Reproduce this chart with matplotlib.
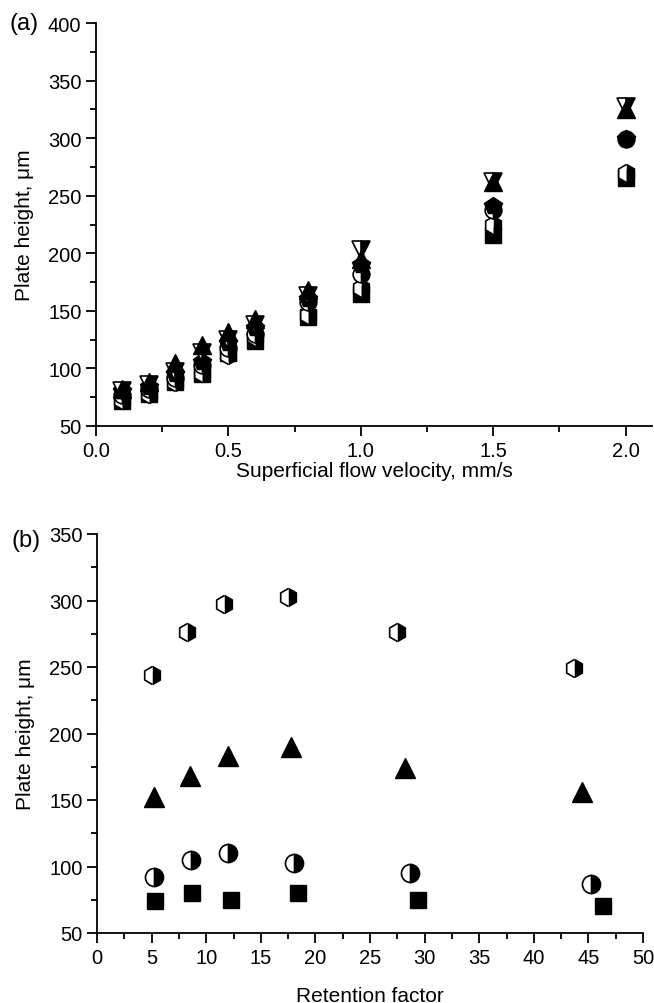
import numpy as np
import matplotlib.pyplot as plt
from matplotlib.ticker import MultipleLocator

plt.rcParams['font.family'] = ['Liberation Sans', 'DejaVu Sans']

# panel (a): plate height vs superficial flow velocity
velocity = [0.1, 0.2, 0.3, 0.4, 0.5, 0.6, 0.8, 1.0, 1.5, 2.0]
h_square = [72, 78, 88, 95, 113, 124, 145, 165, 216, 265]
h_hexagon = [73, 78, 88, 96, 112, 127, 146, 170, 225, 270]
h_circle = [77, 82, 92, 103, 118, 130, 158, 182, 238, 299]
h_pentagon = [80, 84, 95, 106, 122, 135, 160, 190, 241, 299]
h_tri_down = [80, 86, 97, 113, 125, 138, 163, 203, 262, 327]
h_tri_up = [82, 88, 105, 120, 132, 143, 168, 195, 262, 325]

# panel (b): plate height vs retention factor
k_hex = [5.0, 8.2, 11.6, 17.5, 27.5, 43.7]
hb_hex = [244, 276, 297, 303, 276, 249]
k_tri = [5.2, 8.5, 12.0, 17.8, 28.2, 44.4]
hb_tri = [152, 168, 183, 190, 174, 156]
k_circ = [5.2, 8.6, 12.0, 18.0, 28.7, 45.2]
hb_circ = [92, 105, 110, 103, 95, 87]
k_sq = [5.3, 8.7, 12.3, 18.4, 29.4, 46.3]
hb_sq = [74, 80, 75, 80, 75, 70]

fig = plt.figure(figsize=(6.54, 10.04), dpi=100)
ax1 = fig.add_axes([96/654, 1-427/1004, 556/654, 403/1004])
ax2 = fig.add_axes([97/654, 1-934/1004, 546/654, 399/1004])

half = dict(markerfacecolor='black', markerfacecoloralt='white',
            markeredgecolor='black', markeredgewidth=1.2, linestyle='none')

ax1.plot(velocity, h_square, 's', color='black', ms=11, linestyle='none')
ax1.plot(velocity, h_hexagon, 'h', fillstyle='right', ms=13, **half)
ax1.plot(velocity, h_circle, 'o', fillstyle='right', ms=12, **half)
ax1.plot(velocity, h_pentagon, 'p', color='black', ms=13, linestyle='none')
ax1.plot(velocity, h_tri_down, 'v', fillstyle='right', ms=13, **half)
ax1.plot(velocity, h_tri_up, '^', color='black', ms=13, linestyle='none')

ax2.plot(k_hex, hb_hex, 'h', fillstyle='right', ms=13, **half)
ax2.plot(k_tri, hb_tri, '^', color='black', ms=14, linestyle='none')
ax2.plot(k_circ, hb_circ, 'o', fillstyle='right', ms=13, **half)
ax2.plot(k_sq, hb_sq, 's', color='black', ms=11, linestyle='none')

ax1.set_xlim(0, 2.1)
ax1.set_ylim(50, 400)
ax1.xaxis.set_major_locator(MultipleLocator(0.5))
ax1.xaxis.set_minor_locator(MultipleLocator(0.25))
ax1.yaxis.set_major_locator(MultipleLocator(50))
ax1.yaxis.set_minor_locator(MultipleLocator(25))
ax1.xaxis.set_major_formatter(plt.FormatStrFormatter('%.1f'))
ax1.set_xlabel('Superficial flow velocity, mm/s', fontsize=15, labelpad=1)
ax1.set_ylabel('Plate height, μm', fontsize=15, labelpad=10)

ax2.set_xlim(0, 50)
ax2.set_ylim(50, 350)
ax2.xaxis.set_major_locator(MultipleLocator(5))
ax2.xaxis.set_minor_locator(MultipleLocator(2.5))
ax2.yaxis.set_major_locator(MultipleLocator(50))
ax2.yaxis.set_minor_locator(MultipleLocator(25))
ax2.set_xlabel('Retention factor', fontsize=15, labelpad=14)
ax2.set_ylabel('Plate height, μm', fontsize=15, labelpad=10)

for ax in (ax1, ax2):
    ax.spines['top'].set_visible(False)
    ax.spines['right'].set_visible(False)
    ax.spines['left'].set_linewidth(1.3)
    ax.spines['bottom'].set_linewidth(1.3)
    ax.tick_params(which='major', direction='out', length=7, width=1.3, labelsize=14.5)
    ax.tick_params(which='minor', direction='out', length=4, width=1.3)

fig.text(0.015, 1-24/1004, '(a)', fontsize=17, va='center')
fig.text(0.018, 1-541/1004, '(b)', fontsize=17, va='center')

fig.savefig('out.png', dpi=100)
